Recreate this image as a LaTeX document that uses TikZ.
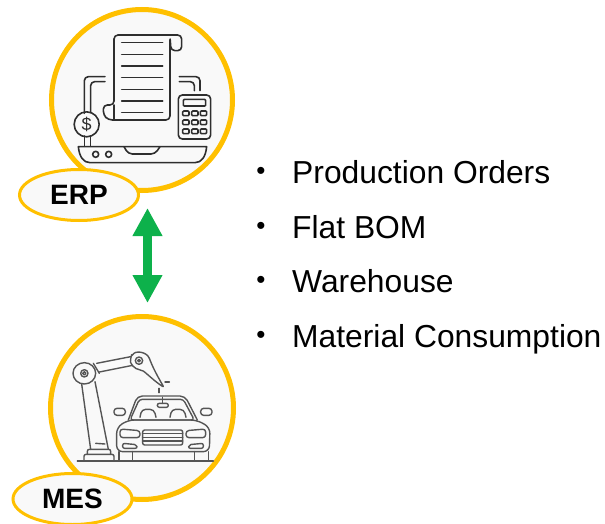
\documentclass[tikz,border=0pt]{standalone}
\usepackage{fontspec}
\setmainfont{Liberation Sans}
\usetikzlibrary{shapes.geometric,arrows.meta}

\definecolor{ringyellow}{HTML}{FFC000}
\definecolor{discgray}{HTML}{F9F9F9}
\definecolor{arrowgreen}{HTML}{0DB14B}
\definecolor{erpline}{HTML}{2E2E2E}
\definecolor{mesline}{HTML}{555555}

\tikzset{
    ring/.style={circle,draw=ringyellow,fill=discgray,line width=5pt,inner sep=0pt},
    tag/.style={ellipse,draw=ringyellow,fill=discgray,line width=3pt,inner sep=0pt,
        minimum width=119pt,minimum height=51pt,font=\fontsize{28}{32}\selectfont\bfseries},
    item/.style={anchor=base west,inner sep=0pt,font=\fontsize{31.8}{36}\selectfont},
    dot/.style={anchor=center,inner sep=0pt,font=\fontsize{26}{26}\selectfont},
    updown/.style={arrowgreen,line width=9pt,
        {Triangle[width=28pt,length=28pt]}-{Triangle[width=28pt,length=28pt]}},
    erpicon/.style={draw=erpline,line width=1.6pt,line join=round,line cap=round},
    mesicon/.style={draw=mesline,line width=1.4pt,line join=round,line cap=round}
}

\begin{document}
\begin{tikzpicture}[x=1pt,y=-1pt]
    \useasboundingbox (0,0) rectangle (605,524);

    \node[ring,minimum size=181pt] (ERPdisc) at (142,100) {};
    \node[ring,minimum size=183pt] (MESdisc) at (142,408) {};

    \begin{scope}[shift={(40,0)},scale=1/3,erpicon,rounded corners=4pt]
        \draw (190,315) -- (222,315) -- (222,105) -- (425,105) -- (425,152) -- (393,152) -- (390,110) -- (390,360) -- (205,360) -- (190,345) -- cycle;
        \draw (222,315) -- (222,360);
        \foreach \y in {128,163,198,233,268,303,338} {
            \draw[rounded corners=0pt] (245,\y) -- (368,\y);
        }
        \draw (195,230) -- (133,230) -- (133,340);
        \draw (195,245) -- (152,245) -- (152,338);
        \draw (133,408) -- (133,438);
        \draw (152,408) -- (152,438);
        \draw (418,230) -- (480,230) -- (480,272);
        \draw (418,245) -- (463,245) -- (463,272);
        \draw (415,285) rectangle (512,417);
        \draw[rounded corners=1pt] (430,298) rectangle (497,318);
        \foreach \x in {428,455,481} {
            \foreach \y in {333,360,387} {
                \draw[rounded corners=1pt] (\x,\y) rectangle ++(19,14);
            }
        }
        \draw[rounded corners=0pt] (115,440) -- (500,440) .. controls (497,470) and (485,488) .. (465,488) -- (150,488) .. controls (130,488) and (118,470) .. (115,440) -- cycle;
        \draw (252,440) -- (265,462) -- (345,462) -- (360,440);
        \draw (167,463) circle (9);
        \draw (206,463) circle (9);
        \node[circle,draw=erpline,line width=1.6pt,minimum size=25pt,inner sep=0pt,font=\fontsize{18}{18}\selectfont,text=erpline] (dollar) at (140,373) {\$};
    \end{scope}

    \begin{scope}[shift={(0,310)},scale=1/3,mesicon,rounded corners=2pt]
        \draw (232,453) -- (640,453);
        \draw (252,453) -- (252,433) -- (342,433) -- (342,453);
        \draw (262,433) -- (262,418) -- (332,418) -- (332,433);
        \draw (245,222) -- (272,418);
        \draw (285,215) -- (325,418);
        \draw (287,400) -- (315,402);
        \draw (253,190) circle (11);
        \draw (253,190) ellipse (34 and 32);
        \draw (253,190) circle (5);
        \draw (280,160) -- (298,190);
        \draw (290,160) -- (392,140);
        \draw (298,186) -- (398,166);
        \draw (395,140) .. controls (405,120) and (440,125) .. (450,150) .. controls (458,170) and (470,195) .. (492,232) .. controls (465,215) and (440,190) .. (425,180) .. controls (405,178) and (385,160) .. (395,140) -- cycle;
        \draw (417,152) circle (11);
        \draw (417,152) circle (4);
        \draw (495,216) -- (508,216);
        \draw (477,235) -- (477,248);
        \draw[rounded corners=5pt] (385,330) -- (412,258) -- (555,258) -- (592,330);
        \draw[rounded corners=3pt] (390,330) -- (418,268) -- (550,268) -- (583,330) -- cycle;
        \draw (488,262) -- (488,280);
        \draw (472,280) rectangle (505,292);
        \draw[rounded corners=4pt] (420,322) -- (425,298) -- (462,298) -- (468,322);
        \draw[rounded corners=4pt] (510,322) -- (515,298) -- (552,298) -- (558,322);
        \draw[rounded corners=3pt] (342,295) rectangle (376,316);
        \draw[rounded corners=3pt] (602,295) rectangle (636,316);
        \draw[rounded corners=6pt] (385,330) -- (350,352) -- (350,425) -- (628,425) -- (630,352) -- (590,330) -- cycle;
        \draw[rounded corners=3pt] (360,357) -- (420,362) -- (420,383) -- (360,383) -- cycle;
        \draw[rounded corners=3pt] (617,357) -- (558,362) -- (558,383) -- (617,383) -- cycle;
        \draw (428,360) rectangle (548,405);
        \foreach \y in {371,382,393} {
            \draw[rounded corners=0pt] (428,\y) -- (548,\y);
        }
        \draw (368,400) -- (410,404) -- (412,415) -- (368,415) -- cycle;
        \draw (610,400) -- (567,404) -- (565,415) -- (610,415) -- cycle;
        \draw (357,425) -- (357,453);
        \draw (397,425) -- (397,453);
        \draw (583,425) -- (583,453);
        \draw (625,425) -- (625,453);
    \end{scope}

    \node[tag] (ERP) at (79,195) {\raisebox{-2pt}{ERP}};
    \node[tag] (MES) at (72.5,499) {\raisebox{-4pt}{MES}};

    \coordinate (updowntop) at (147.5,208);
    \coordinate (updownbot) at (147.5,303);
    \draw[updown] (updowntop) -- (updownbot);

    \begin{scope}[every node/.style={dot}]
        \node (bulleta) at (261,173) {•};
        \node (bulletb) at (261,228) {•};
        \node (bulletc) at (261,282) {•};
        \node (bulletd) at (261,337) {•};
    \end{scope}

    \begin{scope}[every node/.style={item}]
        \node (orders) at (292,183) {Production Orders};
        \node (bom) at (292,238) {Flat BOM};
        \node (warehouse) at (292,292) {Warehouse};
        \node (material) at (292,347) {Material Consumption};
    \end{scope}
\end{tikzpicture}
\end{document}
